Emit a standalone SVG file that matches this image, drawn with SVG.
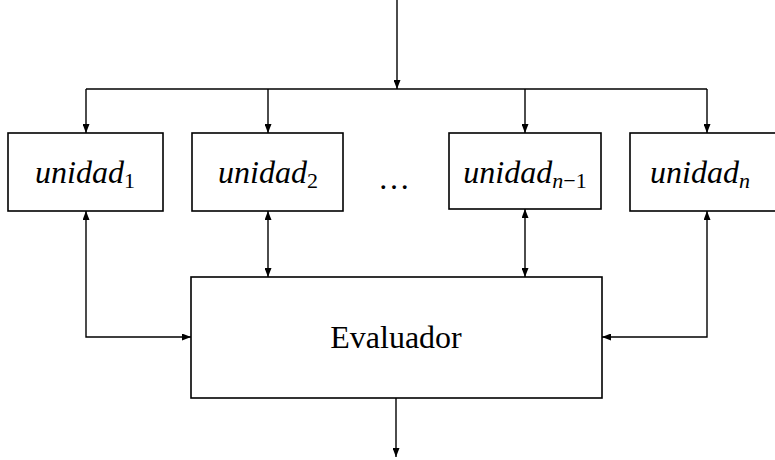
<svg xmlns="http://www.w3.org/2000/svg" width="775" height="460" viewBox="0 0 775 460">
<defs>
<marker id="ah" markerWidth="9" markerHeight="7" refX="9" refY="3.5" orient="auto-start-reverse" markerUnits="userSpaceOnUse">
<path d="M0,0 L9,3.5 L0,7 z" fill="#000"/>
</marker>
<style>
.box{fill:#fff;stroke:#000;stroke-width:1.6}
.ln{fill:none;stroke:#000;stroke-width:1.4}
.lbl{font-family:"Liberation Serif",serif;font-size:32px;font-style:italic;fill:#000}
.sub{font-size:22px}
.up{font-style:normal}
.ev{font-family:"Liberation Serif",serif;font-size:32px;fill:#000}
</style>
</defs>
<rect width="775" height="460" fill="#fff"/>
<g id="connectors">
<line class="ln" x1="397" y1="0" x2="397" y2="89" marker-end="url(#ah)"/>
<polyline class="ln" points="86,89 707,89"/>
<line class="ln" x1="86" y1="89" x2="86" y2="133" marker-end="url(#ah)"/>
<line class="ln" x1="268" y1="89" x2="268" y2="133" marker-end="url(#ah)"/>
<line class="ln" x1="525" y1="89" x2="525" y2="133" marker-end="url(#ah)"/>
<line class="ln" x1="707" y1="89" x2="707" y2="133" marker-end="url(#ah)"/>
<polyline class="ln" points="86,211 86,337 191,337" marker-start="url(#ah)" marker-end="url(#ah)"/>
<line class="ln" x1="268" y1="211" x2="268" y2="277" marker-start="url(#ah)" marker-end="url(#ah)"/>
<line class="ln" x1="525" y1="209" x2="525" y2="277" marker-start="url(#ah)" marker-end="url(#ah)"/>
<polyline class="ln" points="707,211 707,337 602,337" marker-start="url(#ah)" marker-end="url(#ah)"/>
<line class="ln" x1="396" y1="398" x2="396" y2="457" marker-end="url(#ah)"/>
</g>
<g id="unidad1">
<rect class="box" x="8" y="133" width="155" height="78"/>
<text class="lbl" x="85" y="183" text-anchor="middle">unidad<tspan class="sub up" dy="5">1</tspan></text>
</g>
<g id="unidad2">
<rect class="box" x="192" y="133" width="151" height="78"/>
<text class="lbl" x="268" y="183" text-anchor="middle">unidad<tspan class="sub up" dy="5">2</tspan></text>
</g>
<g id="dots">
<text class="ev" x="394" y="189" text-anchor="middle">…</text>
</g>
<g id="unidadn1">
<rect class="box" x="449" y="133" width="152" height="76"/>
<text class="lbl" x="525" y="183" text-anchor="middle">unidad<tspan class="sub" dy="5">n</tspan><tspan class="sub up">−1</tspan></text>
</g>
<g id="unidadn">
<rect class="box" x="630" y="133" width="160" height="78"/>
<text class="lbl" x="700" y="183" text-anchor="middle">unidad<tspan class="sub" dy="5">n</tspan></text>
</g>
<g id="evaluador">
<rect class="box" x="191" y="277" width="411" height="121"/>
<text class="ev" x="396" y="348" text-anchor="middle">Evaluador</text>
</g>
</svg>
